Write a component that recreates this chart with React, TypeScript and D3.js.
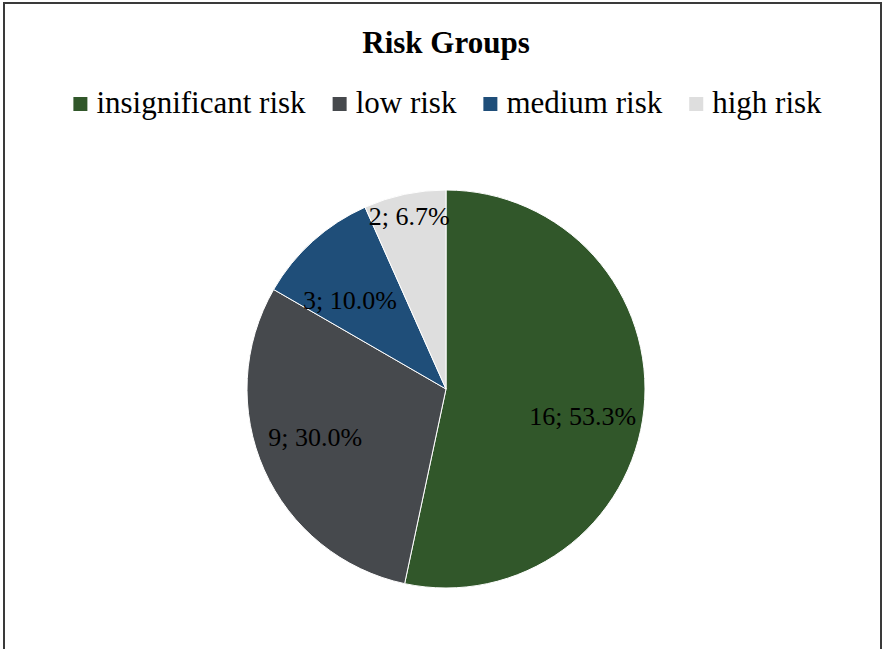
import { useRef, useEffect } from 'react';
import * as d3 from 'd3';

// Risk group counts
const categories = ['insignificant risk', 'low risk', 'medium risk', 'high risk'];
const counts = [16, 9, 3, 2];
const colors = ['#31572A', '#46494D', '#1F4E79', '#DEDEDE'];

const W = 884;
const H = 649;

export default function App() {
  const svgRef = useRef<SVGSVGElement>(null);

  useEffect(() => {
    if (!svgRef.current) return;
    const svg = d3.select(svgRef.current);
    svg.selectAll('*').remove();

    const font = '"Liberation Serif", "Times New Roman", serif';

    // chart frame
    svg.append('rect')
      .attr('x', 4).attr('y', 3)
      .attr('width', 877).attr('height', 670)
      .attr('fill', '#fff')
      .attr('stroke', '#3a3a3a')
      .attr('stroke-width', 2);

    svg.append('text')
      .attr('x', 446).attr('y', 53)
      .attr('text-anchor', 'middle')
      .attr('font-family', font)
      .attr('font-weight', 700)
      .attr('font-size', '31px')
      .attr('fill', '#000')
      .text('Risk Groups');

    // legend, centered, laid out from measured text widths
    const legend = svg.append('g');
    const box = 14, boxGap = 9, itemGap = 27;
    let cx = 0;
    categories.forEach((c, i) => {
      const g = legend.append('g').attr('transform', `translate(${cx},0)`);
      g.append('rect')
        .attr('x', 0).attr('y', 97)
        .attr('width', box).attr('height', box)
        .attr('fill', colors[i]);
      const t = g.append('text')
        .attr('x', box + boxGap).attr('y', 113)
        .attr('font-family', font)
        .attr('font-size', '31px')
        .attr('fill', '#000')
        .text(c);
      const tw = (t.node() as SVGTextElement).getComputedTextLength();
      cx += box + boxGap + tw + itemGap;
    });
    const total = cx - itemGap;
    legend.attr('transform', `translate(${447.5 - total / 2},0)`);

    // pie
    const center = { x: 446, y: 389 };
    const r = 199;
    const pie = d3.pie<number>().sort(null).value((d) => d);
    const arcs = pie(counts);
    const arc = d3.arc<d3.PieArcDatum<number>>().innerRadius(0).outerRadius(r);
    const sum = d3.sum(counts);

    const g = svg.append('g').attr('transform', `translate(${center.x},${center.y})`);
    g.selectAll('path.slice')
      .data(arcs)
      .enter()
      .append('path')
      .attr('class', 'slice')
      .attr('d', arc)
      .attr('fill', (_, i) => colors[i])
      .attr('stroke', '#fff')
      .attr('stroke-width', 1);

    // label distance as fraction of radius (small slice pushed out like Excel does)
    const labelR = [0.70, 0.70, 0.66, 0.89];
    const labelShift = [5, 4, -5, 0];
    g.selectAll('text.lbl')
      .data(arcs)
      .enter()
      .append('text')
      .attr('class', 'lbl')
      .attr('transform', (d, i) => {
        const a = (d.startAngle + d.endAngle) / 2 + (labelShift[i] * Math.PI) / 180;
        const rr = r * labelR[i];
        return `translate(${Math.sin(a) * rr},${-Math.cos(a) * rr})`;
      })
      .attr('text-anchor', 'middle')
      .attr('dy', '0.35em')
      .attr('font-family', font)
      .attr('font-size', '26px')
      .attr('fill', '#000')
      .text((d) => `${d.data}; ${((d.data / sum) * 100).toFixed(1)}%`);
  }, []);

  return (
    <div style={{ position: 'absolute', left: 0, top: 0 }}>
      <svg ref={svgRef} width={W} height={H} style={{ display: 'block' }} />
    </div>
  );
}
